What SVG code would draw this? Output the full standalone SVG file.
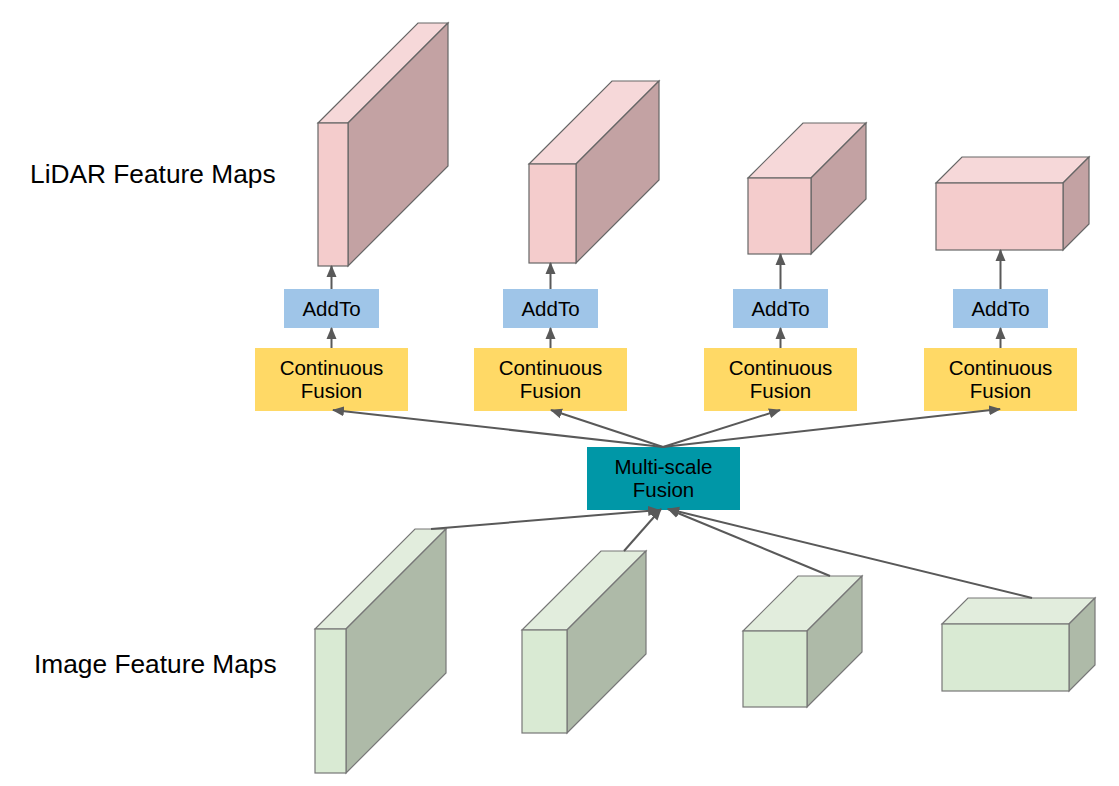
<svg xmlns="http://www.w3.org/2000/svg" width="1119" height="786" viewBox="0 0 1119 786">
<defs>
<marker id="ah" markerUnits="userSpaceOnUse" markerWidth="12" markerHeight="11" viewBox="0 0 12 10" refX="11" refY="5" orient="auto">
<path d="M0,0 L12,5 L0,10 z" fill="#595959"/>
</marker>
</defs>
<style>
.lf{fill:#f4cccc;stroke:#666;stroke-width:1.2}
.lt{fill:#f6d8d9;stroke:#666;stroke-width:1.2}
.ls{fill:#c3a2a3;stroke:#666;stroke-width:1.2}
.gf{fill:#d9ead3;stroke:#777;stroke-width:1.2}
.gt{fill:#e2eddd;stroke:#777;stroke-width:1.2}
.gs{fill:#aebaa8;stroke:#777;stroke-width:1.2}
.add{fill:#9fc5e8}
.cf{fill:#ffd966}
.ms{fill:#0097a7}
text{font-family:"Liberation Sans",Arial,sans-serif;fill:#000}
.t20{font-size:20.5px;text-anchor:middle}
.lab{font-size:26.3px}
.c{stroke:#595959;stroke-width:2;fill:none;marker-end:url(#ah)}
</style>
<rect width="1119" height="786" fill="#fff"/>

<text class="lab" x="30" y="183">LiDAR Feature Maps</text>
<text class="lab" x="34" y="673">Image Feature Maps</text>

<g id="lidar1">
<polygon class="lt" points="318,123 418,23 448,23 348,123"/>
<polygon class="ls" points="348,123 448,23 448,166 348,266"/>
<rect class="lf" x="318" y="123" width="30" height="143"/>
</g>
<g id="lidar2">
<polygon class="lt" points="529,164 612,81 659,81 576,164"/>
<polygon class="ls" points="576,164 659,81 659,180 576,263"/>
<rect class="lf" x="529" y="164" width="47" height="99"/>
</g>
<g id="lidar3">
<polygon class="lt" points="748,178 803,123 866,123 811,178"/>
<polygon class="ls" points="811,178 866,123 866,199 811,254"/>
<rect class="lf" x="748" y="178" width="63" height="76"/>
</g>
<g id="lidar4">
<polygon class="lt" points="936,183 962,157 1089,157 1063,183"/>
<polygon class="ls" points="1063,183 1089,157 1089,224 1063,250"/>
<rect class="lf" x="936" y="183" width="127" height="67"/>
</g>

<g id="add1"><rect class="add" x="284" y="289" width="95" height="39"/><text class="t20" x="331.5" y="316">AddTo</text></g>
<g id="add2"><rect class="add" x="503" y="289" width="95" height="39"/><text class="t20" x="550.5" y="316">AddTo</text></g>
<g id="add3"><rect class="add" x="733" y="289" width="95" height="39"/><text class="t20" x="780.5" y="316">AddTo</text></g>
<g id="add4"><rect class="add" x="953" y="289" width="95" height="39"/><text class="t20" x="1000.5" y="316">AddTo</text></g>

<g id="cf1"><rect class="cf" x="255" y="348" width="153" height="63"/><text class="t20" x="331.5" y="375">Continuous</text><text class="t20" x="331.5" y="398">Fusion</text></g>
<g id="cf2"><rect class="cf" x="474" y="348" width="153" height="63"/><text class="t20" x="550.5" y="375">Continuous</text><text class="t20" x="550.5" y="398">Fusion</text></g>
<g id="cf3"><rect class="cf" x="704" y="348" width="153" height="63"/><text class="t20" x="780.5" y="375">Continuous</text><text class="t20" x="780.5" y="398">Fusion</text></g>
<g id="cf4"><rect class="cf" x="924" y="348" width="153" height="63"/><text class="t20" x="1000.5" y="375">Continuous</text><text class="t20" x="1000.5" y="398">Fusion</text></g>

<g id="msf"><rect class="ms" x="587" y="447" width="153" height="63"/><text class="t20" x="663.5" y="474">Multi-scale</text><text class="t20" x="663.5" y="497">Fusion</text></g>

<g id="img1">
<polygon class="gt" points="315,629 415,529 446,529 346,629"/>
<polygon class="gs" points="346,629 446,529 446,673 346,773"/>
<rect class="gf" x="315" y="629" width="31" height="144"/>
</g>
<g id="img2">
<polygon class="gt" points="522,630 601,551 646,551 567,630"/>
<polygon class="gs" points="567,630 646,551 646,654 567,733"/>
<rect class="gf" x="522" y="630" width="45" height="103"/>
</g>
<g id="img3">
<polygon class="gt" points="743,631 798,576 862,576 807,631"/>
<polygon class="gs" points="807,631 862,576 862,652 807,707"/>
<rect class="gf" x="743" y="631" width="64" height="76"/>
</g>
<g id="img4">
<polygon class="gt" points="942,624 968,598 1095,598 1069,624"/>
<polygon class="gs" points="1069,624 1095,598 1095,665 1069,691"/>
<rect class="gf" x="942" y="624" width="127" height="67"/>
</g>

<g id="connectors">
<line class="c" x1="331.5" y1="289" x2="331.5" y2="266"/>
<line class="c" x1="550.5" y1="289" x2="550.5" y2="263"/>
<line class="c" x1="780.5" y1="289" x2="780.5" y2="254"/>
<line class="c" x1="1000.5" y1="289" x2="1000.5" y2="250"/>
<line class="c" x1="331.5" y1="348" x2="331.5" y2="328"/>
<line class="c" x1="550.5" y1="348" x2="550.5" y2="328"/>
<line class="c" x1="780.5" y1="348" x2="780.5" y2="328"/>
<line class="c" x1="1000.5" y1="348" x2="1000.5" y2="328"/>
<line class="c" x1="663" y1="447" x2="333" y2="410"/>
<line class="c" x1="663" y1="447" x2="551" y2="410"/>
<line class="c" x1="663" y1="447" x2="780" y2="410"/>
<line class="c" x1="663" y1="447" x2="1000" y2="409"/>
<line class="c" x1="431" y1="529" x2="659" y2="510"/>
<line class="c" x1="624" y1="551" x2="661" y2="509"/>
<line class="c" x1="830" y1="576" x2="668" y2="509"/>
<line class="c" x1="1032" y1="598" x2="668" y2="509"/>
</g>
</svg>
